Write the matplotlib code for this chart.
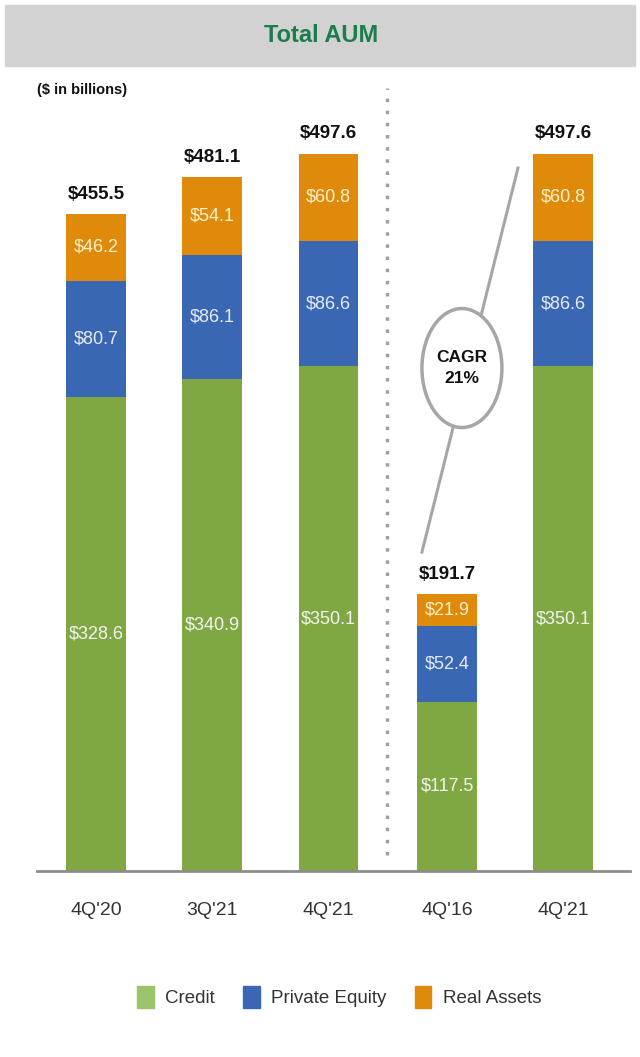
import numpy as np
import matplotlib.pyplot as plt
from matplotlib.patches import Ellipse, Rectangle, Patch

# data
periods = ["4Q'20", "3Q'21", "4Q'21", "4Q'16", "4Q'21"]
credit = [328.6, 340.9, 350.1, 117.5, 350.1]
private_equity = [80.7, 86.1, 86.6, 52.4, 86.6]
real_assets = [46.2, 54.1, 60.8, 21.9, 60.8]
totals = [455.5, 481.1, 497.6, 191.7, 497.6]

green = '#80A842'
blue = '#3A67B3'
orange = '#E08A0C'

plt.rcParams['font.family'] = ['Liberation Sans', 'DejaVu Sans']

W, H = 640, 1057
fig = plt.figure(figsize=(W / 100, H / 100), dpi=100)

def px(x0, y0, x1, y1):
    # pixel box (top-left origin) -> figure fraction rect
    return [x0 / W, 1 - y1 / H, (x1 - x0) / W, (y1 - y0) / H]

# title band
fig.patches.append(Rectangle((5 / W, 1 - 66 / H), 630 / W, 61 / H,
                             transform=fig.transFigure, color='#D2D2D2', zorder=0))
fig.text(321 / W, 1 - 36 / H, 'Total AUM', ha='center', va='center',
         fontsize=17, fontweight='bold', color='#1B7C4C')
fig.text(37 / W, 1 - 90 / H, '($ in billions)', ha='left', va='center',
         fontsize=10.5, fontweight='bold', color='#111111')

ax = fig.add_axes(px(37, 88, 630, 871))
x = np.arange(len(periods)) * 1.0
x[3:] += 0.02
width = 0.516

c = np.array(credit)
pe = np.array(private_equity)
ra = np.array(real_assets)
ax.bar(x, c, width, color=green, zorder=2)
ax.bar(x, pe, width, bottom=c, color=blue, zorder=2)
ax.bar(x, ra, width, bottom=c + pe, color=orange, zorder=2)

for i in range(len(x)):
    ax.text(x[i], c[i] / 2, f'${c[i]:.1f}', ha='center', va='center',
            fontsize=13, color='#F4F4F4', zorder=3)
    ax.text(x[i], c[i] + pe[i] / 2, f'${pe[i]:.1f}', ha='center', va='center',
            fontsize=13, color='#E6ECF6', zorder=3)
    ax.text(x[i], c[i] + pe[i] + ra[i] / 2, f'${ra[i]:.1f}', ha='center', va='center',
            fontsize=13, color='#FFF2C8', zorder=3)
    ax.text(x[i], totals[i] + 8, f'${totals[i]:.1f}', ha='center', va='bottom',
            fontsize=13.5, fontweight='bold', color='#111111')

ax.set_xlim(-0.508, 4.594)
ax.set_ylim(0, 543)
ax.set_xticks(x)
ax.set_xticklabels(periods, fontsize=14, color='#333333')
ax.tick_params(axis='x', length=0, pad=22)
ax.set_yticks([])
for s in ['top', 'right', 'left']:
    ax.spines[s].set_visible(False)
ax.spines['bottom'].set_color('#8C8C8C')
ax.spines['bottom'].set_linewidth(2)

# dotted separator
ax.plot([2.5, 2.5], [11, 543], color='#A0A0A0', linestyle=(0, (1, 2.5)),
        linewidth=2.5, clip_on=False, zorder=1)

# CAGR bubble
ax.plot([2.804, 3.63], [221.2, 487.5], color='#A6A6A6', linewidth=2.2, zorder=4)
ax.add_patch(Ellipse((3.148, 348.8), 0.688, 82.5, facecolor='white',
                     edgecolor='#A6A6A6', linewidth=2.5, zorder=5))
ax.text(3.148, 348.8, 'CAGR\n21%', ha='center', va='center', fontsize=12.5,
        fontweight='bold', color='#111111', linespacing=1.5, zorder=6)

# legend
handles = [Patch(color='#9CC46A', label='Credit'),
           Patch(color=blue, label='Private Equity'),
           Patch(color=orange, label='Real Assets')]
fig.legend(handles=handles, loc='center', bbox_to_anchor=(339 / W, 1 - 997 / H),
           ncol=3, frameon=False, fontsize=13.5, handlelength=0.9, handleheight=1.4,
           handletextpad=0.6, columnspacing=1.5, labelcolor='#333333')

fig.savefig('out.png', dpi=100, facecolor='white')
